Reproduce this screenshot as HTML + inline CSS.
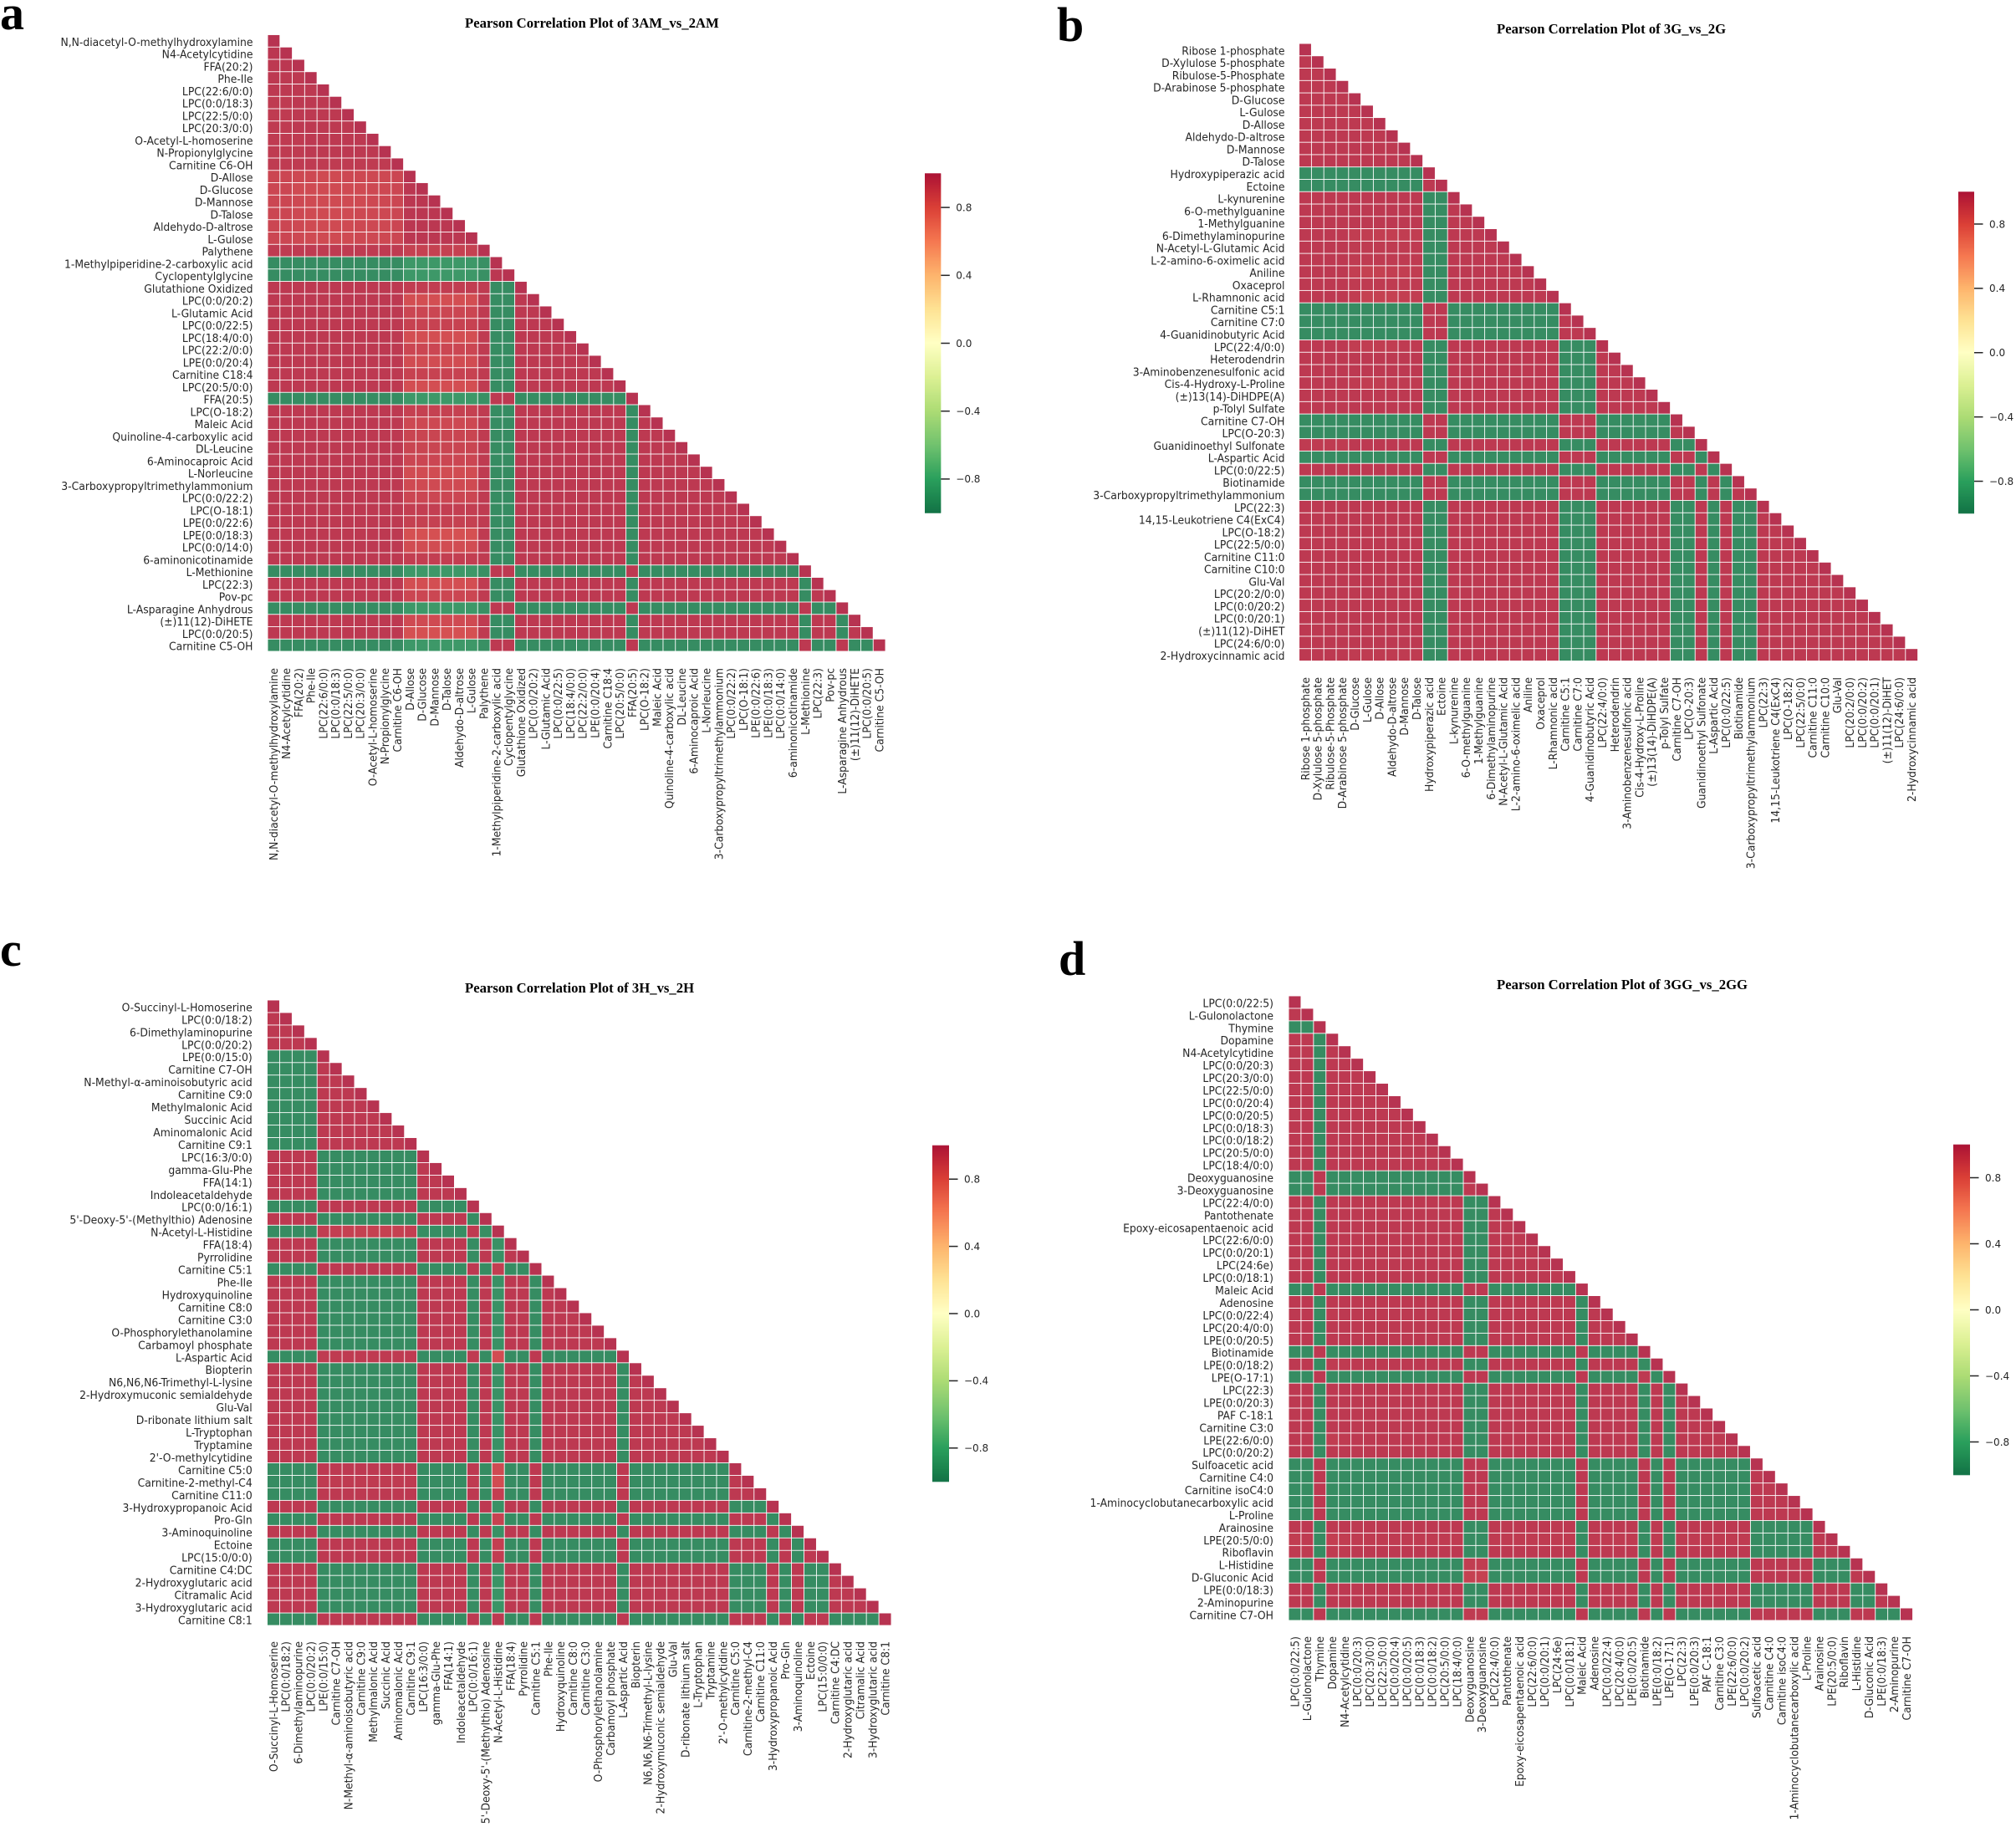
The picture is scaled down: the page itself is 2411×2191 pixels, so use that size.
<!DOCTYPE html>
<html lang="en">
<head>
<meta charset="utf-8">
<title>Pearson Correlation Plots</title>
<style>
html,body{margin:0;padding:0;background:#fff;}
svg{display:block;}
.ylab,.xlab{font-family:"DejaVu Sans","Liberation Sans",sans-serif;font-size:13.4px;fill:#262626;}
.ttl{font-family:"Liberation Serif",serif;font-weight:bold;font-size:16.7px;fill:#000;}
.ltr{font-family:"Liberation Serif",serif;font-weight:bold;font-size:58px;fill:#000;}
.cbl{font-family:"DejaVu Sans","Liberation Sans",sans-serif;font-size:12px;fill:#262626;}
</style>
</head>
<body>
<svg id="fig" xmlns="http://www.w3.org/2000/svg" width="2411" height="2191" viewBox="0 0 2411 2191">
<rect x="0" y="0" width="2411" height="2191" fill="#fff"/>
<text class="ltr" x="0" y="35">a</text>
<text class="ltr" x="1264" y="49">b</text>
<text class="ltr" x="0" y="1155">c</text>
<text class="ltr" x="1266" y="1166">d</text>
</svg>
<script>
const colorbarTicks = [0.8, 0.4, 0, -0.4, -0.8];

const titleA = "Pearson Correlation Plot of 3AM_vs_2AM";
const titleB = "Pearson Correlation Plot of 3G_vs_2G";
const titleC = "Pearson Correlation Plot of 3H_vs_2H";
const titleD = "Pearson Correlation Plot of 3GG_vs_2GG";

const labelsA = ["N,N-diacetyl-O-methylhydroxylamine","N4-Acetylcytidine","FFA(20:2)","Phe-Ile","LPC(22:6/0:0)","LPC(0:0/18:3)","LPC(22:5/0:0)","LPC(20:3/0:0)","O-Acetyl-L-homoserine","N-Propionylglycine","Carnitine C6-OH","D-Allose","D-Glucose","D-Mannose","D-Talose","Aldehydo-D-altrose","L-Gulose","Palythene","1-Methylpiperidine-2-carboxylic acid","Cyclopentylglycine","Glutathione Oxidized","LPC(0:0/20:2)","L-Glutamic Acid","LPC(0:0/22:5)","LPC(18:4/0:0)","LPC(22:2/0:0)","LPE(0:0/20:4)","Carnitine C18:4","LPC(20:5/0:0)","FFA(20:5)","LPC(O-18:2)","Maleic Acid","Quinoline-4-carboxylic acid","DL-Leucine","6-Aminocaproic Acid","L-Norleucine","3-Carboxypropyltrimethylammonium","LPC(0:0/22:2)","LPC(O-18:1)","LPE(0:0/22:6)","LPE(0:0/18:3)","LPC(0:0/14:0)","6-aminonicotinamide","L-Methionine","LPC(22:3)","Pov-pc","L-Asparagine Anhydrous","(±)11(12)-DiHETE","LPC(0:0/20:5)","Carnitine C5-OH"];

const labelsB = ["Ribose 1-phosphate","D-Xylulose 5-phosphate","Ribulose-5-Phosphate","D-Arabinose 5-phosphate","D-Glucose","L-Gulose","D-Allose","Aldehydo-D-altrose","D-Mannose","D-Talose","Hydroxypiperazic acid","Ectoine","L-kynurenine","6-O-methylguanine","1-Methylguanine","6-Dimethylaminopurine","N-Acetyl-L-Glutamic Acid","L-2-amino-6-oximelic acid","Aniline","Oxaceprol","L-Rhamnonic acid","Carnitine C5:1","Carnitine C7:0","4-Guanidinobutyric Acid","LPC(22:4/0:0)","Heterodendrin","3-Aminobenzenesulfonic acid","Cis-4-Hydroxy-L-Proline","(±)13(14)-DiHDPE(A)","p-Tolyl Sulfate","Carnitine C7-OH","LPC(O-20:3)","Guanidinoethyl Sulfonate","L-Aspartic Acid","LPC(0:0/22:5)","Biotinamide","3-Carboxypropyltrimethylammonium","LPC(22:3)","14,15-Leukotriene C4(ExC4)","LPC(O-18:2)","LPC(22:5/0:0)","Carnitine C11:0","Carnitine C10:0","Glu-Val","LPC(20:2/0:0)","LPC(0:0/20:2)","LPC(0:0/20:1)","(±)11(12)-DiHET","LPC(24:6/0:0)","2-Hydroxycinnamic acid"];

const labelsC = ["O-Succinyl-L-Homoserine","LPC(0:0/18:2)","6-Dimethylaminopurine","LPC(0:0/20:2)","LPE(0:0/15:0)","Carnitine C7-OH","N-Methyl-α-aminoisobutyric acid","Carnitine C9:0","Methylmalonic Acid","Succinic Acid","Aminomalonic Acid","Carnitine C9:1","LPC(16:3/0:0)","gamma-Glu-Phe","FFA(14:1)","Indoleacetaldehyde","LPC(0:0/16:1)","5'-Deoxy-5'-(Methylthio) Adenosine","N-Acetyl-L-Histidine","FFA(18:4)","Pyrrolidine","Carnitine C5:1","Phe-Ile","Hydroxyquinoline","Carnitine C8:0","Carnitine C3:0","O-Phosphorylethanolamine","Carbamoyl phosphate","L-Aspartic Acid","Biopterin","N6,N6,N6-Trimethyl-L-lysine","2-Hydroxymuconic semialdehyde","Glu-Val","D-ribonate lithium salt","L-Tryptophan","Tryptamine","2'-O-methylcytidine","Carnitine C5:0","Carnitine-2-methyl-C4","Carnitine C11:0","3-Hydroxypropanoic Acid","Pro-Gln","3-Aminoquinoline","Ectoine","LPC(15:0/0:0)","Carnitine C4:DC","2-Hydroxyglutaric acid","Citramalic Acid","3-Hydroxyglutaric acid","Carnitine C8:1"];

const labelsD = ["LPC(0:0/22:5)","L-Gulonolactone","Thymine","Dopamine","N4-Acetylcytidine","LPC(0:0/20:3)","LPC(20:3/0:0)","LPC(22:5/0:0)","LPC(0:0/20:4)","LPC(0:0/20:5)","LPC(0:0/18:3)","LPC(0:0/18:2)","LPC(20:5/0:0)","LPC(18:4/0:0)","Deoxyguanosine","3-Deoxyguanosine","LPC(22:4/0:0)","Pantothenate","Epoxy-eicosapentaenoic acid","LPC(22:6/0:0)","LPC(0:0/20:1)","LPC(24:6e)","LPC(0:0/18:1)","Maleic Acid","Adenosine","LPC(0:0/22:4)","LPC(20:4/0:0)","LPE(0:0/20:5)","Biotinamide","LPE(0:0/18:2)","LPE(O-17:1)","LPC(22:3)","LPE(0:0/20:3)","PAF C-18:1","Carnitine C3:0","LPE(22:6/0:0)","LPC(0:0/20:2)","Sulfoacetic acid","Carnitine C4:0","Carnitine isoC4:0","1-Aminocyclobutanecarboxylic acid","L-Proline","Arainosine","LPE(20:5/0:0)","Riboflavin","L-Histidine","D-Gluconic Acid","LPE(0:0/18:3)","2-Aminopurine","Carnitine C7-OH"];

/* correlation values in hundredths, lower triangle, one array per row */
const valuesA = [
[100],
[98,100],
[97,98,100],
[97,97,97,100],
[97,97,97,97,100],
[96,96,97,97,97,100],
[96,96,97,97,97,97,100],
[96,96,97,97,97,97,97,100],
[96,96,96,97,97,97,97,97,100],
[96,96,96,97,97,97,97,97,97,100],
[96,96,96,96,96,96,96,96,96,96,100],
[90,90,89,89,88,88,89,89,89,89,90,100],
[90,90,88,88,88,88,88,88,89,89,90,98,100],
[90,90,89,88,88,88,88,88,89,89,90,98,98,100],
[90,90,89,88,88,88,88,89,89,89,90,98,98,98,100],
[90,90,89,88,88,88,88,89,89,89,90,98,98,98,98,100],
[90,90,89,88,88,88,88,89,89,89,90,98,98,98,98,98,100],
[96,96,96,96,96,96,96,96,96,96,96,93,93,93,93,93,93,100],
[-97,-97,-97,-97,-97,-97,-97,-97,-97,-97,-97,-91,-91,-91,-91,-91,-91,-95,100],
[-97,-97,-97,-97,-97,-97,-97,-97,-97,-97,-97,-91,-91,-91,-91,-91,-91,-95,98,100],
[97,97,97,97,97,97,97,97,97,97,97,95,95,95,95,95,95,96,-97,-97,100],
[97,97,97,97,97,97,97,97,97,97,97,86,86,86,86,86,86,96,-97,-97,97,100],
[97,97,97,97,97,97,97,97,97,97,97,90,90,90,90,90,90,96,-97,-97,97,97,100],
[97,97,97,97,97,97,97,97,97,97,97,92,92,92,92,92,92,96,-97,-97,97,97,97,100],
[97,97,97,97,97,97,97,97,97,97,97,86,86,86,86,86,86,96,-97,-97,97,97,97,97,100],
[97,97,97,97,97,97,97,97,97,97,97,90,90,90,90,90,90,96,-97,-97,97,97,97,97,97,100],
[97,97,97,97,97,97,97,97,97,97,97,87,87,87,87,87,87,96,-97,-97,97,97,97,97,97,97,100],
[97,97,97,97,97,97,97,97,97,97,97,92,92,92,92,92,92,96,-97,-97,97,97,97,97,97,97,97,100],
[97,97,97,97,97,97,97,97,97,97,97,86,86,86,86,86,86,96,-97,-97,97,97,97,97,97,97,97,97,100],
[-97,-97,-97,-97,-97,-97,-97,-97,-97,-97,-97,-91,-91,-91,-91,-91,-91,-95,97,97,-97,-97,-97,-97,-97,-97,-97,-97,-97,100],
[97,97,97,97,97,97,97,97,97,97,97,93,93,93,93,93,93,96,-97,-97,97,97,97,97,97,97,97,97,97,-97,100],
[97,97,97,97,97,97,97,97,97,97,97,89,89,89,89,89,89,96,-97,-97,97,97,97,97,97,97,97,97,97,-97,97,100],
[97,97,97,97,97,97,97,97,97,97,97,91,91,91,91,91,91,96,-97,-97,97,97,97,97,97,97,97,97,97,-97,97,97,100],
[97,97,97,97,97,97,97,97,97,97,97,91,91,91,91,91,91,96,-97,-97,97,97,97,97,97,97,97,97,97,-97,97,97,97,100],
[97,97,97,97,97,97,97,97,97,97,97,90,90,90,90,90,90,96,-97,-97,97,97,97,97,97,97,97,97,97,-97,97,97,97,97,100],
[97,97,97,97,97,97,97,97,97,97,97,87,87,87,87,87,87,96,-97,-97,97,97,97,97,97,97,97,97,97,-97,97,97,97,97,97,100],
[97,97,97,97,97,97,97,97,97,97,97,88,88,88,88,88,88,96,-97,-97,97,97,97,97,97,97,97,97,97,-97,97,97,97,97,97,97,100],
[97,97,97,97,97,97,97,97,97,97,97,90,90,90,90,90,90,96,-97,-97,97,97,97,97,97,97,97,97,97,-97,97,97,97,97,97,97,97,100],
[97,97,97,97,97,97,97,97,97,97,97,94,94,94,94,94,94,96,-97,-97,97,97,97,97,97,97,97,97,97,-97,97,97,97,97,97,97,97,97,100],
[97,97,97,97,97,97,97,97,97,97,97,93,93,93,93,93,93,96,-97,-97,97,97,97,97,97,97,97,97,97,-97,97,97,97,97,97,97,97,97,97,100],
[97,97,97,97,97,97,97,97,97,97,97,85,85,85,85,85,85,96,-97,-97,97,97,97,97,97,97,97,97,97,-97,97,97,97,97,97,97,97,97,97,97,100],
[97,97,97,97,97,97,97,97,97,97,97,87,87,87,87,87,87,96,-97,-97,97,97,97,97,97,97,97,97,97,-97,97,97,97,97,97,97,97,97,97,97,97,100],
[97,97,97,97,97,97,97,97,97,97,97,94,94,94,94,94,94,96,-97,-97,97,97,97,97,97,97,97,97,97,-97,97,97,97,97,97,97,97,97,97,97,97,97,100],
[-97,-97,-97,-97,-97,-97,-97,-97,-97,-97,-97,-91,-91,-91,-91,-91,-91,-95,97,97,-97,-97,-97,-97,-97,-97,-97,-97,-97,97,-97,-97,-97,-97,-97,-97,-97,-97,-97,-97,-97,-97,-97,100],
[97,97,97,97,97,97,97,97,97,97,97,86,86,86,86,86,86,96,-97,-97,97,97,97,97,97,97,97,97,97,-97,97,97,97,97,97,97,97,97,97,97,97,97,97,-97,100],
[97,97,97,97,97,97,97,97,97,97,97,90,90,90,90,90,90,96,-97,-97,97,97,97,97,97,97,97,97,97,-97,97,97,97,97,97,97,97,97,97,97,97,97,97,-97,97,100],
[-97,-97,-97,-97,-97,-97,-97,-97,-97,-97,-97,-91,-91,-91,-91,-91,-91,-95,97,97,-97,-97,-97,-97,-97,-97,-97,-97,-97,97,-97,-97,-97,-97,-97,-97,-97,-97,-97,-97,-97,-97,-97,97,-97,-97,100],
[97,97,97,97,97,97,97,97,97,97,97,88,88,88,88,88,88,96,-97,-97,97,97,97,97,97,97,97,97,97,-97,97,97,97,97,97,97,97,97,97,97,97,97,97,-97,97,97,-97,100],
[97,97,97,97,97,97,97,97,97,97,97,85,85,85,85,85,85,96,-97,-97,97,97,97,97,97,97,97,97,97,-97,97,97,97,97,97,97,97,97,97,97,97,97,97,-97,97,97,-97,97,100],
[-97,-97,-97,-97,-97,-97,-97,-97,-97,-97,-97,-91,-91,-91,-91,-91,-91,-95,97,97,-97,-97,-97,-97,-97,-97,-97,-97,-97,97,-97,-97,-97,-97,-97,-97,-97,-97,-97,-97,-97,-97,-97,97,-97,-97,97,-97,-97,100]
];

const valuesB = [
[100],
[97,100],
[97,97,100],
[97,97,97,100],
[97,97,97,97,100],
[97,97,97,97,97,100],
[97,97,97,97,97,97,100],
[97,97,97,97,97,97,97,100],
[97,97,97,97,97,97,97,97,100],
[97,97,97,97,97,97,97,97,97,100],
[-97,-97,-97,-97,-97,-97,-97,-97,-97,-97,100],
[-97,-97,-97,-97,-97,-97,-97,-97,-97,-97,97,100],
[97,97,97,97,97,97,97,97,97,97,-97,-97,100],
[97,97,97,97,97,97,97,97,97,97,-97,-97,97,100],
[97,97,97,97,97,97,97,97,97,97,-97,-97,97,97,100],
[97,97,97,97,95,95,94,94,95,95,-97,-97,97,97,97,100],
[97,97,97,97,96,96,96,96,96,96,-97,-97,97,97,97,97,100],
[97,97,97,97,96,96,96,96,96,96,-97,-97,97,97,97,97,97,100],
[97,97,97,97,94,93,93,94,94,95,-97,-97,97,97,97,97,97,97,100],
[97,97,97,97,96,96,96,96,96,96,-97,-97,97,97,97,97,97,97,97,100],
[97,97,97,97,95,93,93,93,94,95,-97,-97,97,97,97,97,97,97,97,97,100],
[-97,-97,-97,-97,-97,-97,-97,-97,-97,-97,97,97,-97,-97,-97,-97,-97,-97,-97,-97,-97,100],
[-97,-97,-97,-97,-97,-97,-97,-97,-97,-97,97,97,-97,-97,-97,-97,-97,-97,-97,-97,-97,97,100],
[-97,-97,-97,-97,-97,-97,-97,-97,-97,-97,97,97,-97,-97,-97,-97,-97,-97,-97,-97,-97,97,97,100],
[97,97,97,97,95,95,95,95,96,96,-97,-97,97,97,97,97,97,97,97,97,97,-97,-97,-97,100],
[97,97,97,97,97,97,97,97,97,97,-97,-97,97,97,97,97,97,97,97,97,97,-97,-97,-97,97,100],
[97,97,97,97,97,97,97,97,97,97,-97,-97,97,97,97,97,97,97,97,97,97,-97,-97,-97,97,97,100],
[97,97,97,97,96,95,95,96,96,96,-97,-97,97,97,97,97,97,97,97,97,97,-97,-97,-97,97,97,97,100],
[97,97,97,97,97,97,97,97,97,97,-97,-97,97,97,97,97,97,97,97,97,97,-97,-97,-97,97,97,97,97,100],
[97,97,97,97,97,97,97,97,97,97,-97,-97,97,97,97,97,97,97,97,97,97,-97,-97,-97,97,97,97,97,97,100],
[-97,-97,-97,-97,-97,-97,-97,-97,-97,-97,97,97,-97,-97,-97,-97,-97,-97,-97,-97,-97,97,97,97,-97,-97,-97,-97,-97,-97,100],
[-97,-97,-97,-97,-97,-97,-97,-97,-97,-97,97,97,-97,-97,-97,-97,-97,-97,-97,-97,-97,97,97,97,-97,-97,-97,-97,-97,-97,97,100],
[96,96,96,96,97,97,97,97,97,97,-97,-97,97,97,97,97,97,97,97,97,97,-97,-97,-97,97,97,97,97,97,97,-97,-97,100],
[-97,-97,-97,-97,-97,-97,-97,-97,-97,-97,97,97,-97,-97,-97,-97,-97,-97,-97,-97,-97,97,97,97,-97,-97,-97,-97,-97,-97,97,97,-97,100],
[97,97,97,97,97,97,97,97,97,97,-97,-97,97,97,97,97,97,97,97,97,97,-97,-97,-97,97,97,97,97,97,97,-97,-97,97,-97,100],
[-97,-97,-97,-97,-97,-97,-97,-97,-97,-97,97,97,-97,-97,-97,-97,-97,-97,-97,-97,-97,97,97,97,-97,-97,-97,-97,-97,-97,97,97,-97,97,-97,100],
[-97,-97,-97,-97,-97,-97,-97,-97,-97,-97,97,97,-97,-97,-97,-97,-97,-97,-97,-97,-97,97,97,97,-97,-97,-97,-97,-97,-97,97,97,-97,97,-97,97,100],
[97,97,97,97,97,97,97,97,97,97,-97,-97,97,97,97,97,97,97,97,97,97,-97,-97,-97,97,97,97,97,97,97,-97,-97,97,-97,97,-97,-97,100],
[97,97,97,97,97,97,97,97,97,97,-97,-97,97,97,97,97,97,97,97,97,97,-97,-97,-97,97,97,97,97,97,97,-97,-97,97,-97,97,-97,-97,97,100],
[97,97,97,97,97,97,97,97,97,97,-97,-97,97,97,97,97,97,97,97,97,97,-97,-97,-97,97,97,97,97,97,97,-97,-97,97,-97,97,-97,-97,97,97,100],
[97,97,97,97,97,97,97,97,97,97,-97,-97,97,97,97,97,97,97,97,97,97,-97,-97,-97,97,97,97,97,97,97,-97,-97,97,-97,97,-97,-97,97,97,97,100],
[97,97,97,97,97,97,97,97,97,97,-97,-97,97,97,97,97,97,97,97,97,97,-97,-97,-97,97,97,97,97,97,97,-97,-97,97,-97,97,-97,-97,97,97,97,97,100],
[97,97,97,97,97,97,97,97,97,97,-97,-97,97,97,97,97,97,97,97,97,97,-97,-97,-97,97,97,97,97,97,97,-97,-97,97,-97,97,-97,-97,97,97,97,97,97,100],
[97,97,97,97,97,97,97,97,97,97,-97,-97,97,97,97,97,97,97,97,97,97,-97,-97,-97,97,97,97,97,97,97,-97,-97,97,-97,97,-97,-97,97,97,97,97,97,97,100],
[97,97,97,97,97,97,97,97,97,97,-97,-97,97,97,97,97,97,97,97,97,97,-97,-97,-97,97,97,97,97,97,97,-97,-97,97,-97,97,-97,-97,97,97,97,97,97,97,97,100],
[97,97,97,97,97,97,97,97,97,97,-97,-97,97,97,97,97,97,97,97,97,97,-97,-97,-97,97,97,97,97,97,97,-97,-97,97,-97,97,-97,-97,97,97,97,97,97,97,97,97,100],
[97,97,97,97,97,97,97,97,97,97,-97,-97,97,97,97,97,97,97,97,97,97,-97,-97,-97,97,97,97,97,97,97,-97,-97,97,-97,97,-97,-97,97,97,97,97,97,97,97,97,97,100],
[97,97,97,97,97,97,97,97,97,97,-97,-97,97,97,97,97,97,97,97,97,97,-97,-97,-97,97,97,97,97,97,97,-97,-97,97,-97,97,-97,-97,97,97,97,97,97,97,97,97,97,97,100],
[97,97,97,97,97,97,97,97,97,97,-97,-97,97,97,97,97,97,97,97,97,97,-97,-97,-97,97,97,97,97,97,97,-97,-97,97,-97,97,-97,-97,97,97,97,97,97,97,97,97,97,97,97,100],
[97,97,97,97,96,96,96,96,96,96,-97,-97,97,97,97,97,97,97,97,97,97,-97,-97,-97,97,97,97,97,97,97,-97,-97,97,-97,97,-97,-97,97,97,97,97,97,97,97,97,97,97,97,97,100]
];

const valuesC = [
[100],
[97,100],
[97,97,100],
[97,97,97,100],
[-97,-97,-97,-97,100],
[-97,-97,-97,-97,97,100],
[-97,-97,-97,-97,97,97,100],
[-97,-97,-97,-97,97,97,97,100],
[-97,-97,-97,-97,97,97,97,97,100],
[-97,-97,-97,-97,97,97,97,97,97,100],
[-97,-97,-97,-97,97,97,97,97,97,97,100],
[-97,-97,-97,-97,97,97,97,97,97,97,97,100],
[97,97,97,97,-97,-97,-97,-97,-97,-97,-97,-97,100],
[97,97,97,97,-97,-97,-97,-97,-97,-97,-97,-97,97,100],
[97,97,97,97,-97,-97,-97,-97,-97,-97,-97,-97,97,97,100],
[97,97,97,97,-97,-97,-97,-97,-97,-97,-97,-97,97,97,97,100],
[-97,-97,-97,-97,97,97,97,97,97,97,97,97,-97,-97,-97,-97,100],
[97,97,97,97,-97,-97,-97,-97,-97,-97,-97,-97,97,97,97,97,-97,100],
[-97,-97,-97,-97,95,94,93,93,93,93,93,94,-96,-96,-96,-96,96,-96,100],
[97,97,97,97,-97,-97,-97,-97,-97,-97,-97,-97,97,97,97,97,-97,97,-94,100],
[97,97,97,97,-97,-97,-97,-97,-97,-97,-97,-97,97,97,97,97,-97,97,-94,97,100],
[-97,-97,-97,-97,97,97,97,97,97,97,97,97,-97,-97,-97,-97,97,-97,94,-97,-97,100],
[97,97,97,97,-97,-97,-97,-97,-97,-97,-97,-97,97,97,97,97,-97,97,-94,97,97,-97,100],
[97,97,97,97,-97,-97,-97,-97,-97,-97,-97,-97,97,97,97,97,-97,97,-94,97,97,-97,97,100],
[97,97,97,97,-97,-97,-97,-97,-97,-97,-97,-97,97,97,97,97,-97,97,-94,97,97,-97,97,97,100],
[97,97,97,97,-97,-97,-97,-97,-97,-97,-97,-97,97,97,97,97,-97,97,-94,97,97,-97,97,97,97,100],
[97,97,97,97,-97,-97,-97,-97,-97,-97,-97,-97,97,97,97,97,-97,97,-94,97,97,-97,97,97,97,97,100],
[97,97,97,97,-97,-97,-97,-97,-97,-97,-97,-97,97,97,97,97,-97,97,-94,97,97,-97,97,97,97,97,97,100],
[-97,-97,-97,-97,96,96,96,96,96,96,96,96,-97,-97,-97,-97,96,-97,87,-97,-97,97,-97,-97,-97,-97,-97,-97,100],
[97,97,97,97,-97,-97,-97,-97,-97,-97,-97,-97,97,97,97,97,-97,97,-94,97,97,-97,97,97,97,97,97,97,-97,100],
[97,97,97,97,-97,-97,-97,-97,-97,-97,-97,-97,97,97,97,97,-97,97,-94,97,97,-97,97,97,97,97,97,97,-97,97,100],
[97,97,97,97,-97,-97,-97,-97,-97,-97,-97,-97,97,97,97,97,-97,97,-94,97,97,-97,97,97,97,97,97,97,-97,97,97,100],
[97,97,97,97,-97,-97,-97,-97,-97,-97,-97,-97,97,97,97,97,-97,97,-94,97,97,-97,97,97,97,97,97,97,-97,97,97,97,100],
[97,97,97,97,-97,-97,-97,-97,-97,-97,-97,-97,97,97,97,97,-97,97,-94,97,97,-97,97,97,97,97,97,97,-97,97,97,97,97,100],
[97,97,97,97,-97,-97,-97,-97,-97,-97,-97,-97,97,97,97,97,-97,97,-94,97,97,-97,97,97,97,97,97,97,-97,97,97,97,97,97,100],
[97,97,97,97,-97,-97,-97,-97,-97,-97,-97,-97,97,97,97,97,-97,97,-94,97,97,-97,97,97,97,97,97,97,-97,97,97,97,97,97,97,100],
[97,97,97,97,-97,-97,-97,-97,-97,-97,-97,-97,97,97,97,97,-97,97,-94,97,97,-97,97,97,97,97,97,97,-97,97,97,97,97,97,97,97,100],
[-97,-97,-97,-97,97,97,97,97,97,97,97,97,-97,-97,-97,-97,97,-97,88,-97,-97,97,-97,-97,-97,-97,-97,-97,97,-97,-97,-97,-97,-97,-97,-97,-97,100],
[-97,-97,-97,-97,96,96,96,96,96,96,96,96,-97,-97,-97,-97,96,-97,87,-97,-97,97,-97,-97,-97,-97,-97,-97,97,-97,-97,-97,-97,-97,-97,-97,-97,97,100],
[-97,-97,-97,-97,97,97,97,97,97,97,97,97,-97,-97,-97,-97,97,-97,94,-97,-97,97,-97,-97,-97,-97,-97,-97,97,-97,-97,-97,-97,-97,-97,-97,-97,97,97,100],
[97,97,97,97,-97,-97,-97,-97,-97,-97,-97,-97,97,97,97,97,-97,97,-94,97,97,-97,97,97,97,97,97,97,-97,97,97,97,97,97,97,97,97,-97,-97,-97,100],
[-97,-97,-97,-97,97,97,97,97,97,97,97,97,-97,-97,-97,-97,97,-97,92,-97,-97,97,-97,-97,-97,-97,-97,-97,97,-97,-97,-97,-97,-97,-97,-97,-97,97,97,97,-97,100],
[97,97,97,97,-97,-97,-97,-97,-97,-97,-97,-97,97,97,97,97,-97,97,-94,97,97,-97,97,97,97,97,97,97,-97,97,97,97,97,97,97,97,97,-97,-97,-97,97,-97,100],
[-97,-97,-97,-97,97,97,97,97,97,97,97,97,-97,-97,-97,-97,97,-97,94,-97,-97,97,-97,-97,-97,-97,-97,-97,97,-97,-97,-97,-97,-97,-97,-97,-97,97,97,97,-97,97,-97,100],
[-97,-97,-97,-97,97,97,97,97,97,97,97,97,-97,-97,-97,-97,97,-97,95,-97,-97,97,-97,-97,-97,-97,-97,-97,97,-97,-97,-97,-97,-97,-97,-97,-97,97,97,97,-97,97,-97,97,100],
[97,97,97,97,-97,-97,-97,-97,-97,-97,-97,-97,97,97,97,97,-97,97,-94,97,97,-97,97,97,97,97,97,97,-97,97,97,97,97,97,97,97,97,-97,-97,-97,97,-97,97,-97,-97,100],
[97,97,97,97,-97,-97,-97,-97,-97,-97,-97,-97,97,97,97,97,-97,97,-93,97,97,-97,97,97,97,97,97,97,-97,97,97,97,97,97,97,97,97,-97,-97,-97,97,-97,97,-97,-97,97,100],
[97,97,97,97,-97,-97,-97,-97,-97,-97,-97,-97,97,97,97,97,-97,97,-93,97,97,-97,97,97,97,97,97,97,-97,97,97,97,97,97,97,97,97,-97,-97,-97,97,-97,97,-97,-97,97,97,100],
[97,97,97,97,-97,-97,-97,-97,-97,-97,-97,-97,97,97,97,97,-97,97,-93,97,97,-97,97,97,97,97,97,97,-97,97,97,97,97,97,97,97,97,-97,-97,-97,97,-97,97,-97,-97,97,97,97,100],
[-97,-97,-97,-97,97,97,97,97,97,97,97,97,-97,-97,-97,-97,97,-97,97,-97,-97,97,-97,-97,-97,-97,-97,-97,97,-97,-97,-97,-97,-97,-97,-97,-97,97,97,97,-97,97,-97,97,97,-97,-97,-97,-97,100]
];

const valuesD = [
[100],
[97,100],
[-97,-97,100],
[97,97,-97,100],
[97,97,-97,97,100],
[97,97,-97,97,97,100],
[97,97,-97,97,97,97,100],
[97,97,-97,97,97,97,97,100],
[97,97,-97,97,97,97,97,97,100],
[97,97,-97,97,97,97,97,97,97,100],
[97,97,-97,97,97,97,97,97,97,97,100],
[97,97,-97,97,97,97,97,97,97,97,97,100],
[97,97,-97,97,97,97,97,97,97,97,97,97,100],
[97,97,-97,97,97,97,97,97,97,97,97,97,97,100],
[-97,-97,97,-97,-97,-97,-97,-97,-97,-97,-97,-97,-97,-97,100],
[-97,-97,97,-97,-97,-97,-97,-97,-97,-97,-97,-97,-97,-97,97,100],
[97,97,-97,97,97,97,97,97,97,97,97,97,97,97,-97,-97,100],
[97,97,-97,97,97,97,97,97,97,97,97,97,97,97,-97,-97,97,100],
[97,97,-97,97,97,97,97,97,97,97,97,97,97,97,-97,-97,97,97,100],
[97,97,-97,97,97,97,97,97,97,97,97,97,97,97,-97,-97,97,97,97,100],
[97,97,-97,97,97,97,97,97,97,97,97,97,97,97,-97,-97,97,97,97,97,100],
[97,97,-97,97,97,97,97,97,97,97,97,97,97,97,-97,-97,97,97,97,97,97,100],
[97,97,-97,97,97,97,97,97,97,97,97,97,97,97,-97,-97,97,97,97,97,97,97,100],
[-97,-97,97,-97,-97,-97,-97,-97,-97,-97,-97,-97,-97,-97,97,97,-97,-97,-97,-97,-97,-97,-97,100],
[97,97,-97,97,97,97,97,97,97,97,97,97,97,97,-97,-97,97,97,97,97,97,97,97,-97,100],
[97,97,-97,96,97,97,97,97,97,97,97,97,97,97,-97,-97,97,97,97,97,97,97,97,-97,97,100],
[97,97,-97,97,97,97,97,97,97,97,97,97,97,97,-97,-97,97,97,97,97,97,97,97,-97,97,97,100],
[97,97,-97,97,97,97,97,97,97,97,97,97,97,97,-97,-97,97,97,97,97,97,97,97,-97,97,97,97,100],
[-97,-97,97,-97,-97,-97,-97,-97,-97,-97,-97,-97,-97,-97,97,97,-97,-97,-97,-97,-97,-97,-97,97,-97,-97,-97,-97,100],
[97,97,-97,96,96,97,97,97,97,97,97,97,97,97,-97,-97,97,97,97,97,97,97,97,-97,97,97,97,97,-97,100],
[-97,-97,97,-97,-97,-97,-97,-97,-97,-97,-97,-97,-97,-97,97,97,-97,-97,-97,-97,-97,-97,-97,97,-97,-97,-97,-97,97,-97,100],
[97,97,-97,97,97,97,97,97,97,97,97,97,97,97,-97,-97,97,97,97,97,97,97,97,-97,97,97,97,97,-97,97,-97,100],
[97,97,-97,97,97,97,97,97,97,97,97,97,97,97,-97,-97,97,97,97,97,97,97,97,-97,97,97,97,97,-97,97,-97,97,100],
[97,97,-97,97,97,97,97,97,97,97,97,97,97,97,-97,-97,97,97,97,97,97,97,97,-97,97,97,97,97,-97,97,-97,97,97,100],
[97,97,-97,97,97,97,97,97,97,97,97,97,97,97,-97,-97,97,97,97,97,97,97,97,-97,97,97,97,97,-97,97,-97,97,97,97,100],
[97,97,-97,95,96,97,97,97,97,97,97,97,97,97,-97,-97,97,97,97,97,97,97,97,-97,97,97,97,97,-97,97,-97,97,97,97,97,100],
[97,97,-97,97,97,97,97,97,97,97,97,97,97,97,-97,-97,97,97,97,97,97,97,97,-97,97,97,97,97,-97,97,-97,97,97,97,97,97,100],
[-97,-97,97,-97,-97,-97,-97,-97,-97,-97,-97,-97,-97,-97,97,97,-97,-97,-97,-97,-97,-97,-97,97,-97,-97,-97,-97,97,-97,97,-97,-97,-97,-97,-97,-97,100],
[-97,-97,97,-97,-97,-97,-97,-97,-97,-97,-97,-97,-97,-97,97,97,-97,-97,-97,-97,-97,-97,-97,97,-97,-97,-97,-97,97,-97,97,-97,-97,-97,-97,-97,-97,97,100],
[-97,-97,97,-97,-97,-97,-97,-97,-97,-97,-97,-97,-97,-97,97,97,-97,-97,-97,-97,-97,-97,-97,97,-97,-97,-97,-97,97,-97,97,-97,-97,-97,-97,-97,-97,97,97,100],
[-97,-97,97,-97,-97,-97,-97,-97,-97,-97,-97,-97,-97,-97,97,97,-97,-97,-97,-97,-97,-97,-97,97,-97,-97,-97,-97,97,-97,97,-97,-97,-97,-97,-97,-97,97,97,97,100],
[-97,-97,97,-97,-97,-97,-97,-97,-97,-97,-97,-97,-97,-97,97,97,-97,-97,-97,-97,-97,-97,-97,97,-97,-97,-97,-97,97,-97,97,-97,-97,-97,-97,-97,-97,97,97,97,97,100],
[97,97,-97,97,97,97,97,97,97,97,97,97,97,97,-97,-97,97,97,97,97,97,97,97,-97,97,97,97,97,-97,97,-97,97,97,97,97,97,97,-97,-97,-97,-97,-97,100],
[95,96,-97,94,95,96,96,96,96,96,96,96,96,96,-97,-97,96,96,96,96,96,96,96,-97,96,96,96,96,-97,96,-97,96,96,96,96,96,96,-97,-97,-97,-97,-97,97,100],
[96,96,-97,96,96,97,97,97,97,97,97,97,97,97,-97,-97,97,97,97,97,97,97,97,-97,97,97,97,97,-97,97,-97,97,97,97,97,97,97,-97,-97,-97,-97,-97,97,97,100],
[-97,-97,97,-97,-97,-97,-97,-97,-97,-97,-97,-97,-97,-97,95,95,-97,-97,-97,-97,-97,-97,-97,97,-97,-97,-97,-97,97,-97,97,-97,-97,-97,-97,-97,-97,97,97,97,97,97,-97,-97,-97,100],
[-97,-97,97,-97,-97,-97,-97,-97,-97,-97,-97,-97,-97,-97,93,93,-97,-97,-97,-97,-97,-97,-97,97,-97,-97,-97,-97,97,-97,97,-97,-97,-97,-97,-97,-97,97,97,97,97,97,-97,-97,-97,97,100],
[97,97,-97,97,97,97,97,97,97,97,97,97,97,97,-97,-97,97,97,97,97,97,97,97,-97,97,97,97,97,-97,97,-97,97,97,97,97,97,97,-97,-97,-97,-97,-97,97,97,97,-97,-97,100],
[97,97,-97,97,97,97,97,97,97,97,97,97,97,97,-97,-97,97,97,97,97,97,97,97,-97,97,97,97,97,-97,97,-97,97,97,97,97,97,97,-97,-97,-97,-97,-97,97,97,97,-97,-97,97,100],
[-97,-97,97,-97,-97,-97,-97,-97,-97,-97,-97,-97,-97,-97,96,96,-97,-97,-97,-97,-97,-97,-97,97,-97,-97,-97,-97,97,-97,97,-97,-97,-97,-97,-97,-97,97,97,97,97,97,-97,-97,-97,97,97,-97,-97,100]
];

const NS = "http://www.w3.org/2000/svg";
const fig = document.getElementById("fig");

/* RdYlGn_r colormap anchors from -1 to +1 */
const ramp = [[0,104,55],[26,152,80],[102,189,99],[166,217,106],[217,239,139],[255,255,191],[254,224,139],[253,174,97],[244,109,67],[215,48,39],[165,0,38]];
function colorScale(v) {
  const t = Math.max(0, Math.min(1, (v + 1) / 2)) * (ramp.length - 1);
  const i = Math.min(ramp.length - 2, Math.floor(t));
  const f = t - i;
  const c = [0, 1, 2].map(k => Math.round(ramp[i][k] + (ramp[i + 1][k] - ramp[i][k]) * f));
  return "rgb(" + c.join(",") + ")";
}

function drawPanel(key, title, labels, rows, box, bar) {
  const xScale = i => box.left + i * box.cw;
  const yScale = i => box.top + i * box.ch;
  const g = document.createElementNS(NS, "g");
  
  
  fig.appendChild(g);

  const t = document.createElementNS(NS, "text");
  t.setAttribute("class", "ttl");
  t.setAttribute("x", box.titleX);
  t.setAttribute("y", box.titleY);
  
  
  t.textContent = title;
  g.appendChild(t);

  rows.forEach((row, r) => {
    row.forEach((val, c) => {
      const rect = document.createElementNS(NS, "rect");
      rect.setAttribute("x", (xScale(c) + 0.45).toFixed(2));
      rect.setAttribute("y", (yScale(r) + 0.45).toFixed(2));
      rect.setAttribute("width", (box.cw - 0.9).toFixed(2));
      rect.setAttribute("height", (box.ch - 0.9).toFixed(2));
      rect.setAttribute("fill", colorScale(val / 100));
      rect.setAttribute("fill-opacity", "0.8");
      
      
      g.appendChild(rect);
    });
  });

  labels.forEach((name, i) => {
    const yl = document.createElementNS(NS, "text");
    yl.setAttribute("class", "ylab");
    yl.setAttribute("text-anchor", "end");
    yl.setAttribute("dy", "0.44em");
    yl.setAttribute("transform", "translate(" + box.labelRight + "," + (yScale(i) + box.ch / 2).toFixed(2) + ") scale(0.925,1)");
    
    
    yl.textContent = name;
    g.appendChild(yl);

    const xl = document.createElementNS(NS, "text");
    xl.setAttribute("class", "xlab");
    xl.setAttribute("text-anchor", "end");
    xl.setAttribute("dy", "0.36em");
    xl.setAttribute("transform", "translate(" + (xScale(i) + box.cw / 2).toFixed(2) + "," + box.labelTop + ") rotate(-90) scale(0.925,1)");
    
    
    xl.textContent = name;
    g.appendChild(xl);
  });

  const cb = document.createElementNS(NS, "g");
  
  
  g.appendChild(cb);
  const barScale = v => bar.top + (1 - v) / 2 * (bar.bottom - bar.top);
  const strips = Math.round(bar.bottom - bar.top);
  for (let s = 0; s < strips; s++) {
    const v = 1 - 2 * (s + 0.5) / strips;
    const strip = document.createElementNS(NS, "rect");
    strip.setAttribute("x", bar.x);
    strip.setAttribute("y", (barScale(v) - 0.8).toFixed(2));
    strip.setAttribute("width", bar.w);
    strip.setAttribute("height", "1.6");
    strip.setAttribute("fill", colorScale(v));
    strip.setAttribute("fill-opacity", "0.85");
    
    
    cb.appendChild(strip);
  }
  colorbarTicks.forEach(tick => {
    const y = barScale(tick);
    const line = document.createElementNS(NS, "rect");
    line.setAttribute("x", bar.x + bar.w);
    line.setAttribute("y", (y - 0.75).toFixed(2));
    line.setAttribute("width", "10.5");
    line.setAttribute("height", "1.5");
    line.setAttribute("fill", "#262626");
    
    
    cb.appendChild(line);
    const lab = document.createElementNS(NS, "text");
    lab.setAttribute("class", "cbl");
    lab.setAttribute("x", bar.x + bar.w + 18);
    lab.setAttribute("y", y.toFixed(2));
    lab.setAttribute("dy", "0.36em");
    
    
    lab.textContent = tick.toFixed(1).replace("-", "\u2212");
    cb.appendChild(lab);
  });
}

drawPanel("a", titleA, labelsA, valuesA,
  {left:320, top:41.5, cw:14.78, ch:14.75, titleX:556, titleY:33, labelRight:302.5, labelTop:799},
  {x:1106, w:19.3, top:207.5, bottom:613.5});
drawPanel("b", titleB, labelsB, valuesB,
  {left:1553.6, top:52, cw:14.8, ch:14.77, titleX:1790, titleY:40, labelRight:1536.5, labelTop:810},
  {x:2342, w:19, top:229.5, bottom:614});
drawPanel("c", titleC, labelsC, valuesC,
  {left:319.5, top:1196, cw:14.93, ch:14.96, titleX:556, titleY:1187, labelRight:301.7, labelTop:1963},
  {x:1115, w:20, top:1370, bottom:1772});
drawPanel("d", titleD, labelsD, valuesD,
  {left:1541, top:1191, cw:14.93, ch:14.94, titleX:1790, titleY:1183, labelRight:1523, labelTop:1957},
  {x:2336, w:20, top:1369, bottom:1764});
</script>
</body>
</html>
